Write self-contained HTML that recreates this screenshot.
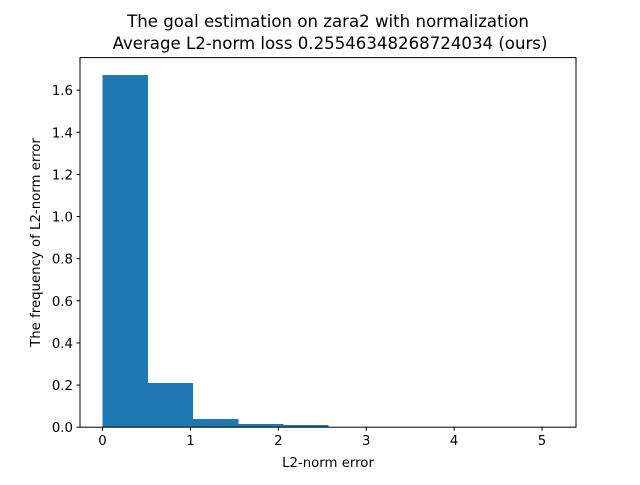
<!DOCTYPE html>
<html><head><meta charset="utf-8"><style>
body{margin:0;background:#fff;}
svg text{font-family:"DejaVu Sans","Liberation Sans",sans-serif;fill:#000;}
</style></head><body>
<svg id="chart" width="640" height="480">
<rect width="640" height="480" fill="#fff"/>
<g id="bars" shape-rendering="crispEdges"></g>
<g id="axes"></g>
<text x="328" y="27" font-size="16.6" text-anchor="middle">The goal estimation on zara2 with normalization</text>
<text x="330" y="49" font-size="16.6" text-anchor="middle">Average L2-norm loss 0.25546348268724034 (ours)</text>
<text x="328" y="467" font-size="13.3" text-anchor="middle">L2-norm error</text>
<text transform="translate(40,242.5) rotate(-90)" font-size="13.3" text-anchor="middle">The frequency of L2-norm error</text>
</svg>
<script>
const binEdges = [0, 0.513, 1.026, 1.539, 2.052, 2.565, 3.078, 3.591, 4.104, 4.617, 5.13];
const freqs = [1.671, 0.21, 0.039, 0.015, 0.01, 0.001, 0.0005, 0.0005, 0.0003, 0.0003];
const xTicks = [0, 1, 2, 3, 4, 5];
const yTicks = [0, 0.2, 0.4, 0.6, 0.8, 1.0, 1.2, 1.4, 1.6];
const L=80,R=576,T=57.6,B=427.2;
const xmin=-0.2565,xmax=5.3865,ymin=0,ymax=1.7546;
const xs=v=>L+(v-xmin)/(xmax-xmin)*(R-L);
const ys=v=>B-(v-ymin)/(ymax-ymin)*(B-T);
const NS="http://www.w3.org/2000/svg";
const bars=document.getElementById('bars');
for(let i=0;i<freqs.length;i++){
  const r=document.createElementNS(NS,'rect');
  r.setAttribute('x',xs(binEdges[i]));
  r.setAttribute('width',xs(binEdges[i+1])-xs(binEdges[i])+0.5);
  r.setAttribute('y',ys(freqs[i]));
  r.setAttribute('height',B-ys(freqs[i]));
  r.setAttribute('fill','#1f77b4');
  
  
  bars.appendChild(r);
}
const ax=document.getElementById('axes');
const fr=document.createElementNS(NS,'rect');
fr.setAttribute('x',L);fr.setAttribute('y',T);fr.setAttribute('width',R-L);fr.setAttribute('height',B-T);
fr.setAttribute('fill','none');fr.setAttribute('stroke','#000');fr.setAttribute('stroke-width','1');


ax.appendChild(fr);
xTicks.forEach(t=>{
  const x=xs(t);
  const l=document.createElementNS(NS,'line');
  l.setAttribute('x1',x);l.setAttribute('x2',x);l.setAttribute('y1',B);l.setAttribute('y2',B+3.5);l.setAttribute('stroke','#000');
  
  
  ax.appendChild(l);
  const tx=document.createElementNS(NS,'text');
  tx.setAttribute('x',x);tx.setAttribute('y',B+18);tx.setAttribute('font-size','13.3');tx.setAttribute('text-anchor','middle');
  tx.textContent=String(t);
  
  
  ax.appendChild(tx);
});
yTicks.forEach(t=>{
  const y=ys(t);
  const l=document.createElementNS(NS,'line');
  l.setAttribute('x1',L-3.5);l.setAttribute('x2',L);l.setAttribute('y1',y);l.setAttribute('y2',y);l.setAttribute('stroke','#000');
  
  
  ax.appendChild(l);
  const tx=document.createElementNS(NS,'text');
  tx.setAttribute('x',L-7);tx.setAttribute('y',y+5);tx.setAttribute('font-size','13.3');tx.setAttribute('text-anchor','end');
  tx.textContent=t.toFixed(1);
  
  
  ax.appendChild(tx);
});
</script>
</body></html>
